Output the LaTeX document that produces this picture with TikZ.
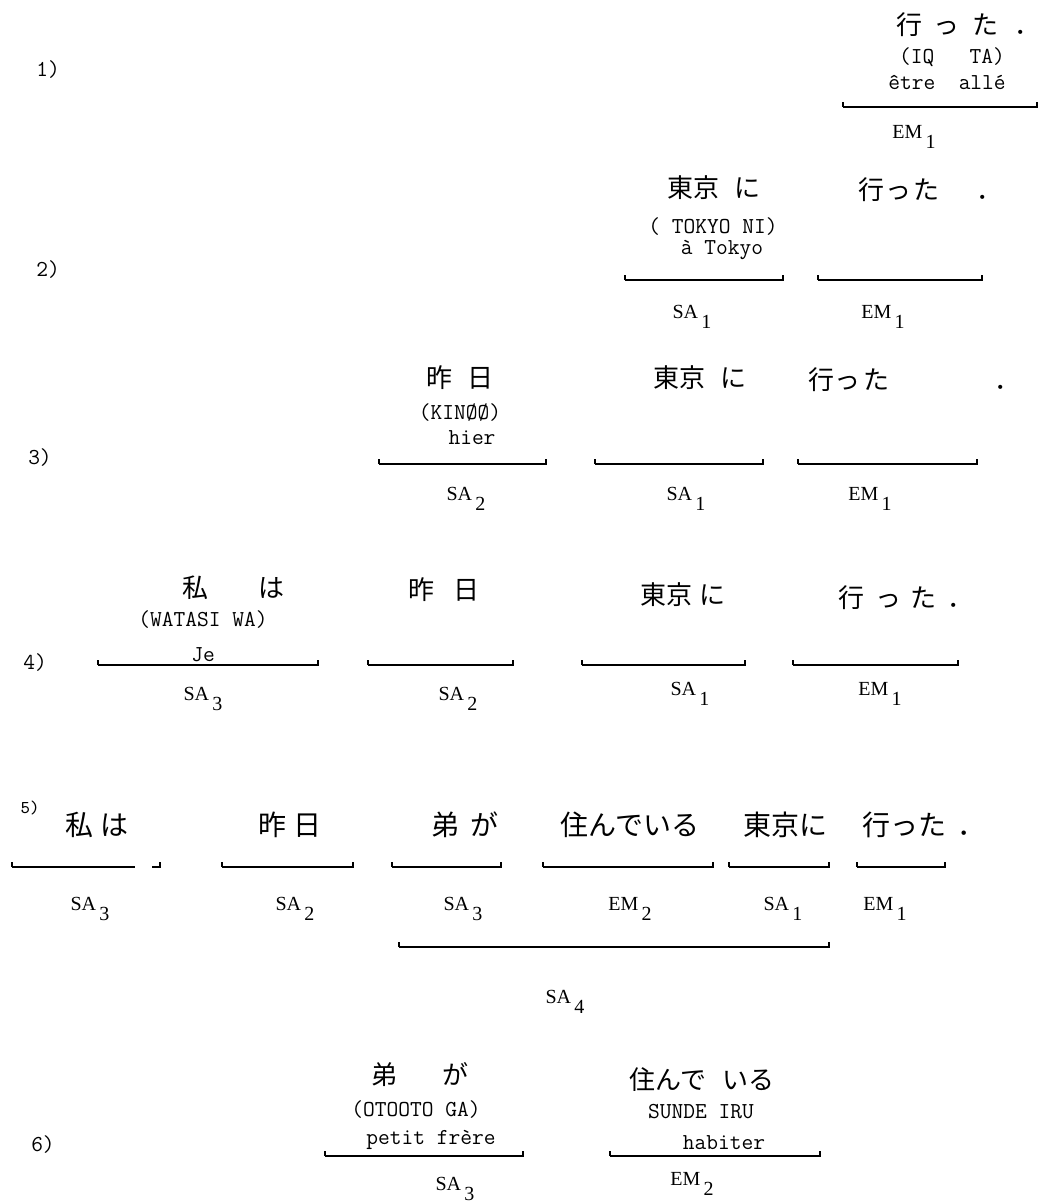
\documentclass[tikz,border=0pt]{standalone}
\usepackage{fontspec}
\newfontfamily\jpfont{Noto Sans CJK JP}
\newfontfamily\labfont{Liberation Serif}
\usepackage{tikz}

\newcommand\subidx[1]{\,\raisebox{-5pt}{#1}}

\tikzset{
  jp/.style={font=\jpfont\fontsize{13}{15}\selectfont, inner sep=0pt},
  jpbig/.style={font=\jpfont\fontsize{14}{16}\selectfont, inner sep=0pt},
  tr/.style={font=\ttfamily\fontsize{11.4}{13}\selectfont, inner sep=0pt},
  lab/.style={font=\labfont\fontsize{10}{12}\selectfont, anchor=base, inner sep=0pt},
  num/.style={font=\ttfamily\fontsize{11.4}{13}\selectfont, inner sep=0pt},
  brk/.style={line width=0.75pt, to path={-- ++(0,-5) (\tikztostart) -- (\tikztotarget) -- ++(0,-5)}}
}

\begin{document}
\begin{tikzpicture}[x=0.5pt, y=-0.5pt]
      \fill[white] (0,0) rectangle (1039,1204);
      % numbering
      \node[num] (r1) at (48,70) {1)};
      \node[num] (r2) at (48,270) {2)};
      \node[num] (r3) at (40,458) {3)};
      \node[num] (r4) at (35,663) {4)};
      \node[num, font=\ttfamily\fontsize{9}{10}\selectfont] (r5) at (30,808) {5)};
      \node[num] (r6) at (43,1145) {6)};
      % 1)
      \node[jp] (j1) at (968,25) {行\hspace{6pt}っ\hspace{6pt}た\hspace{8pt}．};
      \node[tr] (t1) at (952,57) {(IQ\ \ \ TA)};
      \node[tr] (f1) at (947,82) {être\ \ allé};
      % 2)
      \node[jp] (j2a) at (714,188) {東京\hspace{8pt}に};
      \node[jp] (j2b) at (930,190) {行\hspace{1pt}っ\hspace{1pt}た\hspace{18pt}．};
      \node[tr] (t2) at (713,227) {(\ TOKYO NI)};
      \node[tr] (f2) at (722,250) {à Tokyo};
      % 3)
      \node[jp] (j3a) at (460,378) {昨\hspace{8pt}日};
      \node[jp] (j3b) at (700,378) {東京\hspace{8pt}に};
      \node[jp] (j3c) at (914,380) {行っ\hspace{2pt}た\hspace{52pt}．};
      \node[tr] (t3) at (460,413) {(KINØØ)};
      \node[tr] (f3) at (472,438) {hier};
      % 4)
      \node[jp] (j4a) at (233,588) {私\hspace{25pt}は};
      \node[jp] (j4b) at (444,590) {昨\hspace{10pt}日};
      \node[jp] (j4c) at (683,595) {東京\hspace{4pt}に};
      \node[jp] (j4d) at (906,598) {行\hspace{6pt}っ\hspace{4pt}た\hspace{6pt}．};
      \node[tr] (t4) at (203,620) {(WATASI WA)};
      \node[tr] (f4) at (203,655) {Je};
      % 5)
      \foreach \n/\x/\t in {a/97/私\hspace{4pt}は, b/290/昨\hspace{4pt}日, c/465/弟\hspace{6pt}が,
                            d/630/住んでいる, e/785/東京に, f/924/行った\hspace{6pt}．} {
        \node[jpbig] (j5\n) at (\x,825) {\t};
      }
      % 6)
      \node[jp] (j6a) at (420,1075) {弟\hspace{23pt}が};
      \node[jp] (j6b) at (702,1080) {住んで\hspace{8pt}いる};
      \node[tr] (t6a) at (416,1110) {(OTOOTO GA)};
      \node[tr] (t6b) at (701,1112) {SUNDE IRU};
      \node[tr] (f6a) at (431,1140) {petit frère};
      \node[tr] (f6b) at (724,1143) {habiter};
      % brackets
      \foreach \n/\l/\r/\y in {b1/843/1037/107, b2a/625/783/280, b2b/818/982/280,
          b3a/379/546/464, b3b/595/763/464, b3c/798/977/464,
          b4a/98/318/665, b4b/368/513/665, b4c/582/745/665, b4d/793/958/665,
          b5b/222/353/867, b5c/392/501/867, b5d/543/713/867, b5e/729/829/867, b5f/857/945/867,
          b5g/399/829/947, b6a/325/523/1156, b6b/610/820/1156} {
        \coordinate (\n l) at (\l,\y);
        \coordinate (\n r) at (\r,\y);
        \draw[brk] (\n l) to (\n r);
      }
      \coordinate (b5al) at (12,867);
      \coordinate (b5am) at (135,867);
      \coordinate (b5an) at (152,867);
      \coordinate (b5ar) at (160,867);
      \draw[line width=0.75pt] (b5al) -- ++(0,-5) (b5al) -- (b5am) (b5an) -- (b5ar) -- ++(0,-5);
      % labels
      \foreach \n/\x/\y/\t/\s in {l1/914/139/EM/1, l2a/692/318/SA/1, l2b/883/318/EM/1,
          l3a/466/500/SA/2, l3b/686/500/SA/1, l3c/870/500/EM/1,
          l4a/203/700/SA/3, l4b/458/700/SA/2, l4c/690/695/SA/1, l4d/880/695/EM/1,
          l5a/90/910/SA/3, l5b/295/910/SA/2, l5c/463/910/SA/3, l5d/630/910/EM/2,
          l5e/783/910/SA/1, l5f/885/910/EM/1, l5g/565/1003/SA/4,
          l6a/455/1190/SA/3, l6b/692/1185/EM/2} {
        \node[lab] (\n) at (\x,\y) {\t\subidx{\s}};
      }
\end{tikzpicture}
\end{document}
